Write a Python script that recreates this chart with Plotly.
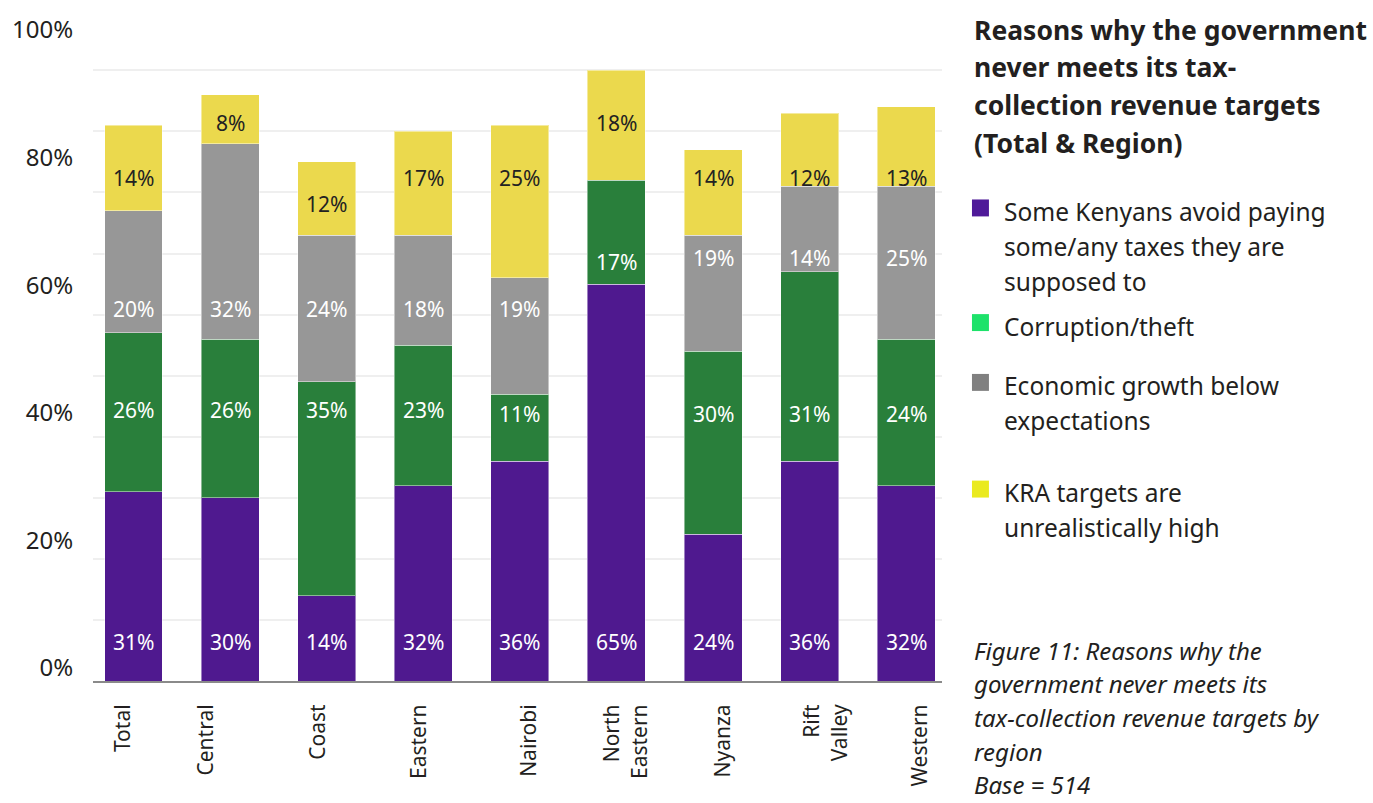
import plotly.graph_objects as go

# Survey shares (%) per region
categories = ["Total", "Central", "Coast", "Eastern", "Nairobi",
              "North Eastern", "Nyanza", "Rift Valley", "Western"]
avoid_taxes = [31, 30, 14, 32, 36, 65, 24, 36, 32]
corruption = [26, 26, 35, 23, 11, 17, 30, 31, 24]
econ_growth = [20, 32, 24, 18, 19, None, 19, 14, 25]
kra_high = [14, 8, 12, 17, 25, 18, 14, 12, 13]

series_names = [
    "Some Kenyans avoid paying<br>some/any taxes they are<br>supposed to",
    "Corruption/theft",
    "Economic growth below<br>expectations",
    "KRA targets are<br>unrealistically high",
]
y_tick_labels = ["0%", "20%", "40%", "60%", "80%", "100%"]

# Vertical placement (axis units) of the value labels inside each segment
label_y_avoid = [6.4] * 9
label_y_corr = [44.4, 44.4, 44.4, 44.4, 43.8, 68.6, 43.8, 43.8, 43.8]
label_y_econ = [61.0, 61.0, 61.0, 61.0, 61.0, None, 69.3, 69.3, 69.3]
label_y_kra = [82.4, 91.3, 78.1, 82.4, 82.4, 91.3, 82.4, 82.4, 82.4]
# Horizontal nudge of the category labels (category units)
cat_label_shift = [-0.11, -0.25, -0.09, -0.04, 0.10, 0.10, 0.10, 0.17, 0.14]

bar_colors = ["#4f198f", "#297f3b", "#979797", "#ebd94d"]
legend_colors = ["#4f1a99", "#1de26a", "#808080", "#eaea1f"]
label_colors = ["white", "white", "white", "#222222"]

FONT = "Noto Sans"
TXT = "#231f20"

W, H = 1373, 803
L, R, T, B = 92, 942, 20, 681  # plot area in pixels
PX_PER_UNIT = 6.125
y_top = (B - T) / PX_PER_UNIT
x_lo, x_hi = -0.419, 8.37


def px(x):
    return (x - L) / (R - L)


def py(y):
    return (B - y) / (B - T)


fig = go.Figure()
values = [avoid_taxes, corruption, econ_growth, kra_high]
label_ys = [label_y_avoid, label_y_corr, label_y_econ, label_y_kra]

for vals, col, name in zip(values, bar_colors, series_names):
    fig.add_trace(go.Bar(
        x=categories, y=vals, name=name, width=0.6,
        marker=dict(color=col, line=dict(color="rgba(255,255,255,0.45)", width=1)),
        showlegend=False, hoverinfo="skip",
    ))

annotations = []
for vals, ys, tc in zip(values, label_ys, label_colors):
    for cat, v, yy in zip(categories, vals, ys):
        if v is None:
            continue
        annotations.append(dict(
            x=cat, y=yy, xref="x", yref="y", text=f"{v}%", showarrow=False,
            font=dict(family=FONT, size=21, color=tc),
            xanchor="center", yanchor="middle",
        ))

# invisible trace that carries the overlay axes for tick labels
fig.add_trace(go.Scatter(x=[0], y=[0], xaxis="x2", yaxis="y2",
                         mode="markers", marker=dict(opacity=0),
                         showlegend=False, hoverinfo="skip"))

# Title
title_lines = ["Reasons why the government", "never meets its tax-",
               "collection revenue targets", "(Total & Region)"]
for line, yy in zip(title_lines, [28, 65, 103, 141]):
    annotations.append(dict(
        x=px(972), y=py(yy), xref="paper", yref="paper", text=f"<b>{line}</b>",
        showarrow=False, xanchor="left", yanchor="middle",
        font=dict(family=FONT, size=26.5, color=TXT),
    ))

# Legend
legend_rows = [[210, 245, 280], [325], [385, 420], [492, 527]]
legend_box = [(198, 215), (313, 330), (373, 390), (480, 497)]
shapes = []
for name, col, rows, (y0, y1) in zip(series_names, legend_colors, legend_rows, legend_box):
    shapes.append(dict(type="rect", xref="paper", yref="paper",
                       x0=px(972), x1=px(989), y0=py(y1), y1=py(y0),
                       fillcolor=col, line=dict(width=0)))
    for part, yy in zip(name.split("<br>"), rows):
        annotations.append(dict(
            x=px(1002), y=py(yy), xref="paper", yref="paper", text=part,
            showarrow=False, xanchor="left", yanchor="middle",
            font=dict(family=FONT, size=24.5, color=TXT),
        ))

# Caption
caption_lines = ["Figure 11: Reasons why the", "government never meets its",
                 "tax-collection revenue targets by", "region", "Base = 514"]
for line, yy in zip(caption_lines, [650, 684, 718, 752, 785]):
    annotations.append(dict(
        x=px(972), y=py(yy), xref="paper", yref="paper", text=f"<i>{line}</i>",
        showarrow=False, xanchor="left", yanchor="middle",
        font=dict(family=FONT, size=24, color=TXT),
    ))

fig.update_layout(
    width=W, height=H, barmode="stack", bargap=0.4,
    margin=dict(l=L, r=W - R, t=T, b=H - B, pad=0),
    paper_bgcolor="white", plot_bgcolor="white",
    font=dict(family=FONT, color=TXT),
    xaxis=dict(range=[x_lo, x_hi], showticklabels=False, ticks="",
               showline=True, linecolor="#8a8a8a", linewidth=2,
               showgrid=False, zeroline=False, fixedrange=True),
    yaxis=dict(range=[0, y_top], dtick=10, tick0=0, showticklabels=False,
               showgrid=True, gridcolor="#efefef", gridwidth=2,
               zeroline=False, ticks="", fixedrange=True),
    xaxis2=dict(overlaying="x", anchor="y", side="bottom",
                range=[x_lo, x_hi],
                tickmode="array",
                tickvals=[i + s for i, s in enumerate(cat_label_shift)],
                ticktext=[c.replace(" ", "<br>") for c in categories],
                tickangle=-90, ticks="outside", ticklen=14,
                tickcolor="rgba(0,0,0,0)",
                tickfont=dict(family=FONT, size=21, color=TXT),
                showgrid=False, zeroline=False, showline=False),
    yaxis2=dict(overlaying="y", anchor="x", side="left",
                range=[-(B - 668) / 6.4, (668 - T) / 6.4],
                tickmode="array", tickvals=[0, 20, 40, 60, 80, 100],
                ticktext=y_tick_labels,
                ticks="outside", ticklen=14, tickcolor="rgba(0,0,0,0)",
                tickfont=dict(family=FONT, size=24, color=TXT),
                showgrid=False, zeroline=False, showline=False),
    annotations=annotations,
    shapes=shapes,
)

fig.write_html("out.html")
